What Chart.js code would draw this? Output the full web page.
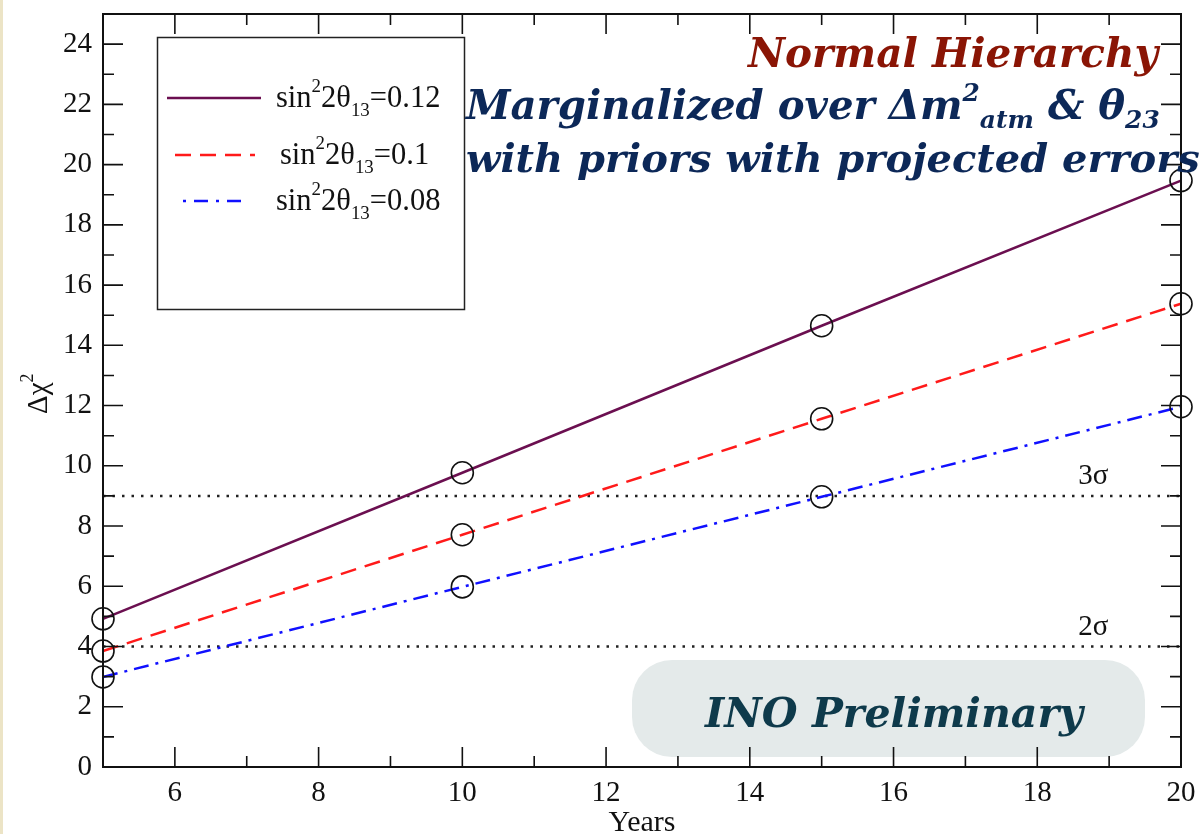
<!DOCTYPE html>
<html>
<head>
<meta charset="utf-8">
<script src="https://cdn.jsdelivr.net/npm/chart.js@4.4.1/dist/chart.umd.min.js"></script>
<style>
  html, body { margin: 0; padding: 0; background: #fff; }
  canvas { display: block; }
</style>
</head>
<body>
<canvas id="chiChart" width="1204" height="834"></canvas>
<script>
// valeurs
const years = [5, 10, 15, 20];
const chiTheta012 = [4.92, 9.77, 14.65, 19.47];
const chiTheta010 = [3.85, 7.71, 11.56, 15.38];
const chiTheta008 = [2.99, 5.98, 8.97, 11.96];
const thetaValues = ['0.12', '0.1', '0.08'];
const sigmaLevels = [9, 4];
const sigmaLabels = ['3σ', '2σ'];
const xTickLabels = [6, 8, 10, 12, 14, 16, 18, 20];
const yTickLabels = [0, 2, 4, 6, 8, 10, 12, 14, 16, 18, 20, 22, 24];

const SERIF = '"Liberation Serif", "Times New Roman", serif';
const FANCY = '"DejaVu Serif", serif';

function toPoints(ys) {
  return years.map((x, i) => ({ x: x, y: ys[i] }));
}

function seriesDataset(label, ys, color, dash) {
  return {
    label: label,
    data: toPoints(ys),
    borderColor: color,
    borderWidth: 2.5,
    borderDash: dash,
    pointRadius: 11,
    pointHoverRadius: 11,
    pointBorderColor: '#111',
    pointBorderWidth: 1.6,
    pointBackgroundColor: 'rgba(0,0,0,0)',
    tension: 0,
    clip: false
  };
}

const sigmaSets = sigmaLevels.map((lvl, i) => ({
  label: sigmaLabels[i],
  data: [{ x: years[0], y: lvl }, { x: years[years.length - 1], y: lvl }],
  borderColor: '#222',
  borderWidth: 2.5,
  borderDash: [2.5, 7],
  pointRadius: 0,
  clip: false
}));

// texte avec exposants / indices : parts = [[texte, 0|1|2], ...]
function richWidth(ctx, parts, size, fontPre, family) {
  let w = 0;
  parts.forEach(p => {
    const s = p[1] ? size * 0.62 : size;
    ctx.font = fontPre + s + 'px ' + family;
    w += ctx.measureText(p[0]).width;
  });
  return w;
}

function drawRich(ctx, parts, x, y, size, fontPre, family, supUp, subDown) {
  let cx = x;
  parts.forEach(p => {
    const s = p[1] ? size * 0.62 : size;
    ctx.font = fontPre + s + 'px ' + family;
    let dy = 0;
    if (p[1] === 1) dy = -size * supUp;
    if (p[1] === 2) dy = size * subDown;
    ctx.fillText(p[0], cx, y + dy);
    cx += ctx.measureText(p[0]).width;
  });
}

function fitRich(ctx, parts, left, right, baseline, fontPre, family, color, supUp, subDown) {
  const w40 = richWidth(ctx, parts, 40, fontPre, family);
  const size = 40 * (right - left) / w40;
  ctx.fillStyle = color;
  ctx.textAlign = 'left';
  ctx.textBaseline = 'alphabetic';
  drawRich(ctx, parts, left, baseline, size, fontPre, family, supUp, subDown);
}

const plotDecor = {
  id: 'plotDecor',
  beforeDraw(chart) {
    const ctx = chart.ctx;
    ctx.save();
    ctx.fillStyle = '#fff';
    ctx.fillRect(0, 0, chart.width, chart.height);
    ctx.fillStyle = '#ece4c6';
    ctx.fillRect(0, 0, 3, chart.height);
    ctx.restore();
  },
  beforeDatasetsDraw(chart) {
    // cadre "INO Preliminary"
    const ctx = chart.ctx;
    ctx.save();
    ctx.fillStyle = '#e4eaea';
    ctx.beginPath();
    ctx.roundRect(632, 660, 513, 97, 40);
    ctx.fill();
    fitRich(ctx, [['INO Preliminary', 0]], 705, 1083, 727, 'bold italic ', FANCY, '#0e3a4b', 0, 0);
    ctx.restore();
  },
  afterDraw(chart) {
    const ctx = chart.ctx;
    const a = chart.chartArea;
    const xs = chart.scales.x;
    const ys = chart.scales.y;
    ctx.save();

    // cadre du graphe
    ctx.strokeStyle = '#111';
    ctx.lineWidth = 2;
    ctx.strokeRect(a.left, a.top, a.right - a.left, a.bottom - a.top);

    // graduations vers l'intérieur
    ctx.lineWidth = 1.6;
    ctx.beginPath();
    xs.ticks.forEach(t => {
      const px = xs.getPixelForValue(t.value);
      const len = t.value % 2 === 0 ? 20 : 11;
      ctx.moveTo(px, a.bottom); ctx.lineTo(px, a.bottom - len);
      ctx.moveTo(px, a.top); ctx.lineTo(px, a.top + len);
    });
    ys.ticks.forEach(t => {
      const py = ys.getPixelForValue(t.value);
      const len = t.value % 2 === 0 ? 20 : 11;
      ctx.moveTo(a.left, py); ctx.lineTo(a.left + len, py);
      ctx.moveTo(a.right, py); ctx.lineTo(a.right - len, py);
    });
    ctx.stroke();

    // étiquettes 3σ / 2σ
    ctx.fillStyle = '#111';
    ctx.font = '29px ' + SERIF;
    ctx.textAlign = 'center';
    ctx.textBaseline = 'alphabetic';
    sigmaLevels.forEach((lvl, i) => {
      ctx.fillText(sigmaLabels[i], xs.getPixelForValue(18.78), ys.getPixelForValue(lvl) - 12);
    });

    // titres des axes
    ctx.font = '30px ' + SERIF;
    ctx.fillText('Years', (a.left + a.right) / 2, 831);
    ctx.save();
    ctx.translate(47, 414);
    ctx.rotate(-Math.PI / 2);
    ctx.textAlign = 'left';
    drawRich(ctx, [['Δχ', 0], ['2', 1]], 0, 0, 29, '', SERIF, 0.5, 0);
    ctx.restore();

    // légende
    ctx.strokeStyle = '#222';
    ctx.lineWidth = 1.5;
    ctx.strokeRect(157.5, 37.5, 307, 272);
    const legendY = [98, 155, 201];
    const legendX0 = [167, 175, 183];
    const legendX1 = [261, 255, 246];
    const textX = [276, 280, 276];
    chart.data.datasets.slice(0, 3).forEach((ds, i) => {
      ctx.strokeStyle = ds.borderColor;
      ctx.lineWidth = 2.5;
      ctx.setLineDash(i === 2 ? [3, 8, 14, 8] : ds.borderDash);
      ctx.beginPath();
      ctx.moveTo(legendX0[i], legendY[i]);
      ctx.lineTo(legendX1[i], legendY[i]);
      ctx.stroke();
      ctx.setLineDash([]);
      ctx.fillStyle = '#111';
      ctx.textAlign = 'left';
      drawRich(ctx, [['sin', 0], ['2', 1], ['2θ', 0], ['13', 2], ['=' + thetaValues[i], 0]],
        textX[i], legendY[i] + 9, 30.5, '', SERIF, 0.5, 0.3);
    });

    // titres en haut à droite
    fitRich(ctx, [['Normal Hierarchy', 0]], 748, 1158, 67, 'bold italic ', FANCY, '#8a1505', 0, 0);
    fitRich(ctx, [['Marginalized over Δm', 0], ['2', 1], ['atm', 2], [' & θ', 0], ['23', 2]],
      466, 1160, 119, 'bold italic ', FANCY, '#0c2858', 0.45, 0.22);
    fitRich(ctx, [['with priors with projected errors', 0]], 466, 1200, 172, 'bold italic ', FANCY, '#0c2858', 0, 0);

    ctx.restore();
  }
};

const ctx = document.getElementById('chiChart').getContext('2d');
new Chart(ctx, {
  type: 'line',
  data: {
    datasets: [
      seriesDataset('sin²2θ13=' + thetaValues[0], chiTheta012, '#6b0f50', []),
      seriesDataset('sin²2θ13=' + thetaValues[1], chiTheta010, '#ff1a1a', [16, 9]),
      seriesDataset('sin²2θ13=' + thetaValues[2], chiTheta008, '#1010ff', [15, 7, 3, 7])
    ].concat(sigmaSets)
  },
  options: {
    responsive: false,
    devicePixelRatio: 1,
    animation: false,
    events: [],
    layout: { padding: { left: 0, right: 23, top: 14, bottom: 0 } },
    plugins: {
      legend: { display: false },
      tooltip: { enabled: false }
    },
    scales: {
      x: {
        type: 'linear',
        min: 5,
        max: 20,
        grid: { display: false, drawTicks: false },
        border: { display: false },
        ticks: {
          stepSize: 1,
          autoSkip: false,
          maxRotation: 0,
          padding: 9,
          color: '#111',
          font: { family: SERIF, size: 29 },
          callback: v => (xTickLabels.includes(v) ? String(v) : '')
        },
        afterFit: s => { s.height = 67; s.paddingLeft = 0; s.paddingRight = 0; }
      },
      y: {
        min: 0,
        max: 25,
        grid: { display: false, drawTicks: false },
        border: { display: false },
        ticks: {
          stepSize: 1,
          autoSkip: false,
          padding: 11,
          color: '#111',
          font: { family: SERIF, size: 29 },
          callback: v => (yTickLabels.includes(v) ? String(v) : '')
        },
        afterFit: s => { s.width = 103; s.paddingTop = 0; s.paddingBottom = 0; }
      }
    }
  },
  plugins: [plotDecor]
});
</script>
</body>
</html>
